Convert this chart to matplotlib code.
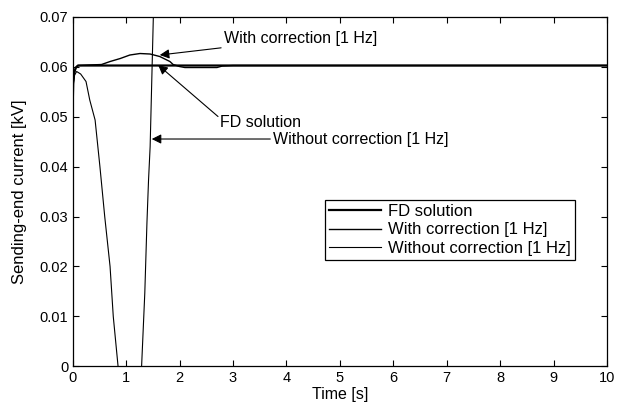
import matplotlib
matplotlib.use("Agg")
import matplotlib.pyplot as plt

plt.rcParams['font.family'] = ['Liberation Sans', 'DejaVu Sans']

# FD solution
t_fd = [0.0, 0.01, 0.03, 0.06, 0.1, 10.0]
v_fd = [0.052, 0.0565, 0.0588, 0.0598, 0.0602, 0.0602]

# With correction [1 Hz]
t_wc = [0.0, 0.01, 0.03, 0.06, 0.1, 0.3, 0.54, 0.7, 0.89, 1.07, 1.26, 1.45, 1.63, 1.82, 1.88,
        2.0, 2.1, 2.7, 2.8, 3.0, 10.0]
v_wc = [0.052, 0.0565, 0.0588, 0.0598, 0.0602, 0.0603, 0.0604, 0.0610, 0.0616, 0.0623, 0.0626,
        0.0625, 0.0620, 0.0610, 0.0604, 0.0600, 0.0598, 0.0598, 0.0601, 0.0602, 0.0602]

# Without correction [1 Hz]
t_wo = [0.0, 0.01, 0.03, 0.075, 0.15, 0.25, 0.32, 0.42, 0.51, 0.6, 0.7, 0.76, 0.85,
        1.0, 1.1, 1.2, 1.29, 1.35, 1.39, 1.42, 1.45, 1.51, 1.6]
v_wo = [0.052, 0.0565, 0.0582, 0.059, 0.0585, 0.057, 0.0533, 0.0493, 0.040, 0.030, 0.020,
        0.010, 0.0, -0.018, -0.03, -0.03, 0.0, 0.0147, 0.0287, 0.0373, 0.0440, 0.070, 0.10]

x_ticks = [0, 1, 2, 3, 4, 5, 6, 7, 8, 9, 10]
y_ticks = [0, 0.01, 0.02, 0.03, 0.04, 0.05, 0.06, 0.07]
y_tick_labels = ['0', '0.01', '0.02', '0.03', '0.04', '0.05', '0.06', '0.07']

fig = plt.figure(figsize=(6.21, 4.03), dpi=100)
ax = fig.add_axes([0.117, 0.0906, 0.8605, 0.8684])

ax.plot(t_fd, v_fd, color='black', lw=1.6, label='FD solution')
ax.plot(t_wc, v_wc, color='black', lw=1.0, label='With correction [1 Hz]')
ax.plot(t_wo, v_wo, color='black', lw=0.8, label='Without correction [1 Hz]')

ax.set_xlim(0, 10)
ax.set_ylim(0, 0.07)
ax.set_xticks(x_ticks)
ax.set_yticks(y_ticks)
ax.set_yticklabels(y_tick_labels)
ax.tick_params(direction='in', top=True, right=True, labelsize=10.5, length=4, width=0.8, pad=3)
for s in ax.spines.values():
    s.set_linewidth(0.9)

ax.set_xlabel('Time [s]', fontsize=11.5, labelpad=2)
ax.set_ylabel('Sending-end current [kV]', fontsize=12, labelpad=9)

fs = 11.5
arrowprops = dict(arrowstyle='-|>', color='black', lw=0.8, mutation_scale=14,
                  shrinkA=0, shrinkB=0)
ax.annotate('With correction [1 Hz]', xy=(1.63, 0.0623), xytext=(2.83, 0.0656),
            fontsize=fs, va='center', ha='left', arrowprops=arrowprops)
ax.annotate('', xy=(1.60, 0.0603), xytext=(2.72, 0.0500), arrowprops=arrowprops)
ax.text(2.75, 0.0489, 'FD solution', fontsize=fs, va='center', ha='left')
ax.annotate('Without correction [1 Hz]', xy=(1.48, 0.0455), xytext=(3.75, 0.0455),
            fontsize=fs, va='center', ha='left', arrowprops=arrowprops)

leg = ax.legend(loc='upper left', bbox_to_anchor=(0.472, 0.476), fontsize=12,
                frameon=True, fancybox=False, edgecolor='black', framealpha=1,
                handlelength=3.1, handletextpad=0.45, borderpad=0.25, labelspacing=0.2,
                borderaxespad=0)
leg.get_frame().set_linewidth(0.9)

fig.savefig('out.png', dpi=100)
